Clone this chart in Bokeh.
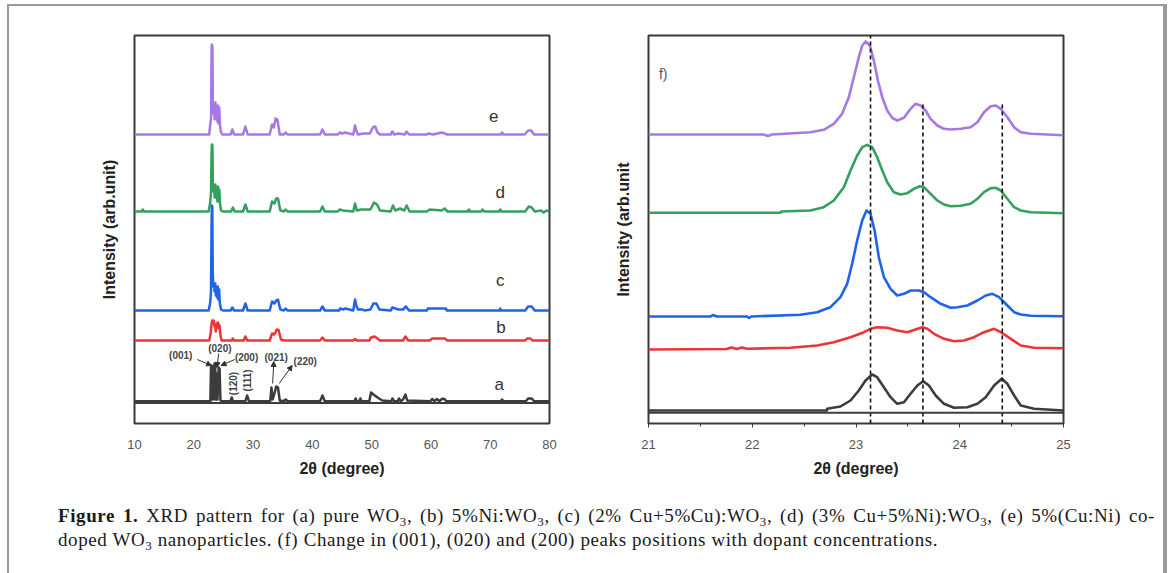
from bokeh.plotting import figure
from bokeh.layouts import column, row
from bokeh.models import Div, FixedTicker, Span, Arrow, NormalHead, Label
from bokeh.core.properties import value
from bokeh.embed import file_html
from bokeh.resources import INLINE

FONT = "Liberation Sans"

# ---------------- data: full-range patterns (2theta, offset intensity) ----------------
full_e = [(10, 289), (22.6, 289), (22.8, 300), (22.92, 306), (23.0, 372), (23.05, 379), (23.15, 377),
          (23.22, 320), (23.32, 310), (23.42, 318), (23.52, 304), (23.65, 321), (23.75, 306), (23.88, 316),
          (23.98, 302), (24.08, 318), (24.18, 300), (24.3, 316), (24.4, 300), (24.55, 292), (24.8, 289),
          (26.2, 289), (26.5, 294), (26.8, 289), (28.3, 289), (28.7, 297), (29.1, 289), (32.8, 289),
          (33.2, 299), (33.5, 296), (33.8, 305), (34.1, 304), (34.5, 289), (35.2, 289), (35.5, 291),
          (35.8, 289), (41.3, 289), (41.7, 294), (42.1, 289), (44.3, 289), (44.6, 291), (45.0, 290),
          (45.5, 291), (46.9, 289), (47.2, 298), (47.4, 293), (47.7, 289), (48.6, 290), (49.7, 290),
          (50.2, 296), (50.6, 297), (51.0, 291), (51.4, 289), (53.2, 289), (53.5, 292), (53.8, 289),
          (54.5, 290), (55.6, 289), (55.9, 292), (56.3, 289), (59.3, 289), (59.6, 290), (60.4, 289),
          (61.8, 291), (62.3, 290), (62.8, 289), (71.8, 289), (72.0, 291), (72.2, 289), (75.8, 289),
          (76.4, 293), (76.9, 293), (77.4, 289), (80, 289)]

full_d = [(10, 212), (11.2, 212), (11.4, 214), (11.6, 212), (22.5, 212), (22.75, 220), (22.9, 230),
          (23.0, 270), (23.05, 279), (23.15, 278), (23.22, 240), (23.32, 232), (23.42, 238), (23.52, 226),
          (23.65, 239), (23.75, 226), (23.88, 236), (23.98, 222), (24.08, 237), (24.2, 222), (24.3, 234),
          (24.42, 220), (24.6, 213), (24.9, 212), (26.3, 212), (26.6, 216), (26.9, 212), (28.3, 212),
          (28.7, 219), (29.1, 212), (32.8, 212), (33.2, 222), (33.6, 220), (33.9, 225), (34.2, 225),
          (34.6, 213), (35.2, 212), (35.5, 214), (35.8, 212), (41.3, 212), (41.7, 217), (42.1, 212),
          (44.3, 212), (44.6, 214), (45.2, 213), (46.9, 212), (47.2, 220), (47.5, 213), (48.2, 214),
          (49.8, 214), (50.4, 221), (50.9, 219), (51.4, 213), (53.2, 212), (53.6, 218), (54.0, 213),
          (54.8, 215), (55.5, 213), (55.9, 218), (56.4, 212), (59.3, 212), (59.8, 214), (61.8, 213),
          (62.3, 215), (62.8, 212), (66.2, 212), (66.4, 214), (66.6, 212), (68.5, 212), (68.7, 214),
          (69.0, 212), (71.5, 212), (71.7, 214), (71.9, 212), (75.9, 212), (76.5, 217), (77.0, 216),
          (77.5, 212), (78.6, 213), (79.0, 211), (79.5, 213), (80, 212)]

full_c = [(10, 113), (22.5, 113), (22.75, 120), (22.9, 131), (23.0, 200), (23.05, 218), (23.12, 217),
          (23.2, 150), (23.3, 137), (23.4, 140), (23.5, 132), (23.62, 140), (23.72, 128), (23.85, 136),
          (23.95, 126), (24.05, 137), (24.15, 124), (24.28, 134), (24.4, 120), (24.6, 114), (24.9, 113),
          (26.2, 113), (26.5, 116), (26.8, 113), (28.3, 113), (28.7, 120), (29.1, 113), (32.8, 113),
          (33.2, 122), (33.6, 120), (33.9, 123), (34.2, 124), (34.6, 114), (35.2, 113), (35.5, 115),
          (35.8, 113), (41.3, 113), (41.7, 117), (42.1, 113), (44.5, 113), (44.7, 115), (45.2, 114),
          (45.6, 115), (46.9, 113), (47.2, 124), (47.4, 118), (47.7, 114), (48.5, 114), (48.8, 113),
          (49.8, 114), (50.3, 120), (50.8, 120), (51.3, 114), (53.2, 113), (53.5, 116), (54.0, 115),
          (54.5, 114), (55.3, 114), (55.8, 117), (56.3, 113), (59.3, 113), (59.5, 115), (62.5, 115),
          (62.7, 113), (71.6, 113), (71.7, 115), (71.8, 113), (75.9, 113), (76.4, 117), (77.0, 117),
          (77.5, 113), (80, 113)]

full_b = [(10, 83), (22.6, 83), (22.85, 90), (23.0, 100), (23.1, 103), (23.25, 100), (23.35, 103),
          (23.5, 97), (23.6, 99), (23.7, 92), (23.85, 100), (24.0, 96), (24.1, 101), (24.25, 95),
          (24.35, 98), (24.5, 88), (24.7, 83), (26.4, 83), (26.6, 85), (26.8, 83), (28.4, 83), (28.7, 87),
          (29.0, 83), (32.8, 83), (33.2, 90), (33.6, 89), (34.0, 94), (34.3, 93.5), (34.7, 84), (35.2, 83),
          (41.3, 83), (41.7, 86), (42.1, 83), (46.9, 83), (47.2, 84.5), (47.5, 83), (49.6, 83), (49.9, 86),
          (50.5, 87), (51.0, 85), (51.4, 83), (55.3, 83), (55.7, 87), (56.2, 83), (59.8, 83), (60.2, 85),
          (62.4, 85), (62.7, 83), (75.9, 83), (76.2, 85), (76.8, 85), (77.1, 83), (80, 83)]

full_a = [(10, 22.3), (22.8, 22.3), (22.9, 56), (23.0, 58), (23.1, 24), (23.2, 57), (23.3, 24),
          (23.5, 60), (23.62, 58), (23.7, 24), (23.85, 50), (24.0, 24), (24.2, 56), (24.35, 55),
          (24.5, 23), (24.7, 22.3), (26.2, 22.3), (26.4, 26), (26.6, 22.3), (28.7, 22.3), (29.0, 28),
          (29.3, 22.3), (32.9, 22.3), (33.1, 36), (33.3, 24), (33.6, 30), (33.9, 37), (34.2, 36),
          (34.5, 23), (35.2, 22.3), (35.5, 24), (35.8, 22.3), (41.3, 22.3), (41.7, 28), (42.1, 22.3),
          (47.1, 22.3), (47.3, 25), (47.5, 22.3), (47.9, 22.3), (48.1, 25), (48.3, 22.3), (49.6, 22.3),
          (49.9, 31), (50.3, 29), (51.0, 26), (51.8, 23), (53.3, 22.3), (53.5, 25), (53.8, 22.3),
          (54.4, 22.3), (54.6, 25), (54.9, 22.3), (55.3, 24), (55.7, 29), (56.0, 23), (59.9, 22.3),
          (60.2, 24.5), (60.6, 22.3), (61.0, 24.5), (61.4, 22.3), (61.9, 24.7), (62.3, 24.5), (62.6, 22.3),
          (71.8, 22.3), (72.0, 24), (72.2, 22.3), (76.0, 22.3), (76.4, 25), (77.0, 25), (77.4, 22.3),
          (80, 22.3)]

full_labels = ["e", "d", "c", "b", "a"]
full_label_x = [70.6, 71.7, 71.7, 71.8, 71.5]
full_label_y = [308, 231, 143, 96, 39]
full_base_extra = 20.5

hkl_text = ["(001)", "(020)", "(200)", "(021)", "(220)"]
hkl_x = [17.8, 24.4, 28.9, 33.9, 38.8]
hkl_y = [68, 75, 66, 66, 62]
hkl_vert_text = ["(120)", "(111)"]
hkl_vert_x = [26.75, 29.0]
hkl_vert_y = [40, 43]
# arrows: (x_start, y_start) -> (x_end, y_end)
hkl_arrows = [(20.6, 64, 23.0, 58), (24.2, 70, 23.9, 56), (26.9, 64, 24.6, 58),
              (33.3, 40, 33.5, 62), (34.4, 40, 36.6, 58)]

# ---------------- data: zoomed (001)/(020)/(200) region ----------------
zoom_e = [(21.0, 289), (22.11, 289), (22.15, 287.5), (22.191, 289), (22.561, 291.3), (22.689, 293.7),
          (22.786, 299.7), (22.866, 309.7), (22.931, 326.3), (22.979, 346.3), (23.027, 366.3), (23.06, 378),
          (23.092, 382), (23.134, 378), (23.172, 363), (23.211, 343), (23.253, 326.3), (23.301, 313),
          (23.349, 305.7), (23.397, 303), (23.462, 305.7), (23.526, 314.7), (23.574, 319.7), (23.623, 318),
          (23.671, 313), (23.719, 304.7), (23.784, 298), (23.848, 294.7), (23.912, 294), (24.009, 294.7),
          (24.105, 296.3), (24.17, 301.3), (24.234, 311.3), (24.298, 317.3), (24.347, 318), (24.395, 314.7),
          (24.459, 306.3), (24.524, 296.3), (24.588, 291.3), (24.685, 289.7), (25.0, 288.3)]

zoom_d = [(21.0, 210.7), (22.271, 210.7), (22.28, 212), (22.561, 213), (22.689, 216.3), (22.786, 223),
          (22.883, 236.3), (22.947, 253), (23.011, 268), (23.06, 276.3), (23.108, 278.7), (23.156, 276.3),
          (23.204, 266.3), (23.253, 253), (23.301, 241.3), (23.365, 231.3), (23.43, 229), (23.494, 230.3),
          (23.558, 234.7), (23.616, 237.3), (23.655, 236.3), (23.719, 229.7), (23.784, 223), (23.848, 219),
          (23.912, 217.3), (24.009, 217.7), (24.105, 219.7), (24.17, 224.7), (24.234, 231.3), (24.298, 235.3),
          (24.347, 235.7), (24.395, 233), (24.459, 224.7), (24.524, 216.3), (24.588, 213), (24.685, 211.3),
          (25.0, 210.3)]

zoom_c = [(21.0, 107), (21.6, 107), (21.62, 108.5), (21.66, 107), (21.95, 107), (21.97, 105.5),
          (21.99, 107), (22.464, 108.7), (22.625, 111.3), (22.754, 116.3), (22.85, 126.3), (22.915, 139.7),
          (22.963, 159.7), (23.011, 183), (23.06, 203), (23.101, 213), (23.14, 209.7), (23.179, 193),
          (23.22, 166.3), (23.269, 146.3), (23.333, 134.7), (23.397, 128), (23.462, 129.7), (23.526, 133),
          (23.607, 133), (23.655, 131.3), (23.719, 126.3), (23.816, 119.7), (23.912, 115.7), (23.977, 116.3),
          (24.073, 118), (24.17, 123), (24.25, 128), (24.315, 129.7), (24.379, 126.3), (24.459, 118),
          (24.524, 111.3), (24.588, 109), (24.685, 107.7), (25.0, 107.3)]

zoom_b = [(21.0, 74), (21.75, 74.5), (21.8, 76), (21.85, 74.5), (21.9, 76), (21.95, 74.8), (22.368, 75.7),
          (22.625, 78), (22.786, 81.3), (22.947, 86.3), (23.076, 91.3), (23.14, 94.7), (23.204, 96.3),
          (23.301, 95.7), (23.397, 93), (23.494, 91.3), (23.574, 94), (23.639, 96.3), (23.687, 94.7),
          (23.752, 89.7), (23.848, 84.7), (23.945, 82.3), (24.041, 83), (24.138, 86.3), (24.234, 91.3),
          (24.331, 94.7), (24.395, 91.3), (24.492, 84.7), (24.588, 78), (24.717, 75.7), (25.0, 75.3)]

zoom_a = [(21.0, 13), (22.72, 13), (22.722, 14.7), (22.85, 17), (22.947, 23), (23.027, 33), (23.092, 43),
          (23.156, 49), (23.204, 46.3), (23.269, 36.3), (23.333, 26.3), (23.397, 19.7), (23.462, 21.3),
          (23.526, 29.7), (23.591, 38), (23.648, 42.3), (23.703, 38), (23.768, 28), (23.848, 19.7),
          (23.945, 15.7), (24.073, 16.3), (24.17, 19.7), (24.25, 26.3), (24.331, 38), (24.405, 44.7),
          (24.459, 39.7), (24.524, 28), (24.588, 18), (24.717, 14.7), (25.0, 13)]

zoom_base_extra = 10.7
dash_x = [23.14, 23.645, 24.41]
dash_top = [388, 319, 319]

colors = {"e": "#a678e3", "d": "#34a05e", "c": "#1f63e8", "b": "#ee3434", "a": "#3c3c3c"}

full_ticks = [10, 20, 30, 40, 50, 60, 70, 80]
zoom_ticks = [21, 22, 23, 24, 25]
zoom_minor = [21.5, 22.5, 23.5, 24.5]


def style(p, ylabel, ticks, minor, tick_out):
    p.outline_line_color = "#3a3a3a"
    p.outline_line_width = 2
    p.xgrid.visible = False
    p.ygrid.visible = False
    p.xaxis.ticker = FixedTicker(ticks=ticks, minor_ticks=minor)
    p.yaxis.ticker = FixedTicker(ticks=[])
    for ax in (p.xaxis, p.yaxis):
        ax.axis_line_color = None
        ax.major_tick_in = 0
        ax.minor_tick_in = 0
        ax.major_label_text_font = FONT
        ax.axis_label_text_font = FONT
        ax.axis_label_text_font_style = "bold"
        ax.axis_label_text_font_size = "16px"
        ax.axis_label_text_color = "#222222"
    p.xaxis.major_tick_out = tick_out
    p.xaxis.minor_tick_out = tick_out - 1 if tick_out else 0
    p.xaxis.major_tick_line_color = "#3a3a3a"
    p.xaxis.minor_tick_line_color = "#3a3a3a"
    p.xaxis.major_label_text_font_size = "13px"
    p.xaxis.major_label_text_color = "#555555"
    p.xaxis.major_label_standoff = 16 - tick_out
    p.xaxis.axis_label = "2θ (degree)"
    p.xaxis.axis_label_standoff = 8
    p.yaxis.major_tick_out = 0
    p.yaxis.minor_tick_out = 0
    p.yaxis.major_label_standoff = 0
    p.yaxis.axis_label = ylabel
    p.yaxis.axis_label_standoff = 17


# ---------------- left panel ----------------
p1 = figure(width=581, height=482, x_range=(10, 80), y_range=(0, 388),
            output_backend="svg", toolbar_location=None,
            min_border_left=125, min_border_right=41, min_border_top=29, min_border_bottom=65)
style(p1, "Intensity (arb.unit)", full_ticks, [], 0)
p1.add_layout(Span(location=full_base_extra, dimension="width", line_color="#3c3c3c", line_width=2))
for key, series in zip(["a", "b", "c", "d", "e"], [full_a, full_b, full_c, full_d, full_e]):
    xs, ys = zip(*series)
    p1.line(list(xs), list(ys), line_color=colors[key], line_width=2.5, line_join="round")
p1.text(x=full_label_x, y=full_label_y, text=full_labels, text_font=value(FONT),
        text_font_size="17px", text_color="#333333", text_align="center", text_baseline="middle")
p1.text(x=hkl_x, y=hkl_y, text=hkl_text, text_font=value(FONT), text_font_size="10px",
        text_font_style="bold", text_color="#444444", text_align="center", text_baseline="middle")
p1.text(x=hkl_vert_x, y=hkl_vert_y, text=hkl_vert_text, text_font=value(FONT), text_font_size="10px",
        text_font_style="bold", text_color="#444444", text_align="center", text_baseline="middle",
        angle=1.5708)
for xs0, ys0, xe, ye in hkl_arrows:
    p1.add_layout(Arrow(end=NormalHead(size=5, fill_color="#333333", line_color="#333333"),
                        x_start=xs0, y_start=ys0, x_end=xe, y_end=ye,
                        line_color="#333333", line_width=1))

# ---------------- right panel ----------------
p2 = figure(width=573, height=482, x_range=(21, 25), y_range=(0, 388),
            output_backend="svg", toolbar_location=None,
            min_border_left=58, min_border_right=100, min_border_top=29, min_border_bottom=65)
style(p2, "Intensity (arb.unit", zoom_ticks, zoom_minor, 4)
p2.add_layout(Span(location=zoom_base_extra, dimension="width", line_color="#3c3c3c", line_width=2))
for key, series in zip(["a", "b", "c", "d", "e"], [zoom_a, zoom_b, zoom_c, zoom_d, zoom_e]):
    xs, ys = zip(*series)
    p2.line(list(xs), list(ys), line_color=colors[key], line_width=2.6, line_join="round")
p2.segment(x0=dash_x, y0=[0] * len(dash_x), x1=dash_x, y1=dash_top,
           line_color="#111111", line_width=1.6, line_dash="4 3")
p2.add_layout(Label(x=21.1, y=350, text="f)", text_font=FONT, text_font_size="14px",
                    text_color="#555555", text_baseline="middle"))

# ---------------- caption ----------------
sub = '<sub style="font-size:0.68em; vertical-align:-0.3em; line-height:0;">3</sub>'
line1 = ("<b>Figure 1.</b> XRD pattern for (a) pure WO" + sub + ", (b) 5%Ni:WO" + sub +
         ", (c) (2% Cu+5%Cu):WO" + sub + ", (d) (3% Cu+5%Ni):WO" + sub + ", (e) 5%(Cu:Ni) co-")
line2 = ("doped WO" + sub + " nanoparticles. (f) Change in (001), (020) and (200) peaks positions "
         "with dopant concentrations.")
caption = Div(width=1154, height=85, margin=0, text=(
    '<div style="position:relative; width:1154px; height:85px;">'
    '<div style="position:absolute; left:49px; top:16px; width:1097px; '
    "font-family:'Liberation Serif', serif; font-size:19px; letter-spacing:0.6px; "
    'line-height:24px; color:#1a1a1a;">'
    '<div style="text-align:justify; text-align-last:justify; white-space:nowrap;">' + line1 + '</div>'
    '<div>' + line2 + '</div></div></div>'))

right_edge = Div(width=2, height=567, margin=0,
                 text='<div style="width:2px; height:567px; background-color:#9a9a9a;"></div>')
inner = column(row(p1, p2), caption, width=1154, height=567)
layout = row(inner, right_edge,
             styles={"margin-left": "9px", "margin-top": "6px",
                     "outline": "2px solid #9a9a9a", "outline-offset": "0px"})

open("out.html", "w").write(file_html(layout, INLINE))
